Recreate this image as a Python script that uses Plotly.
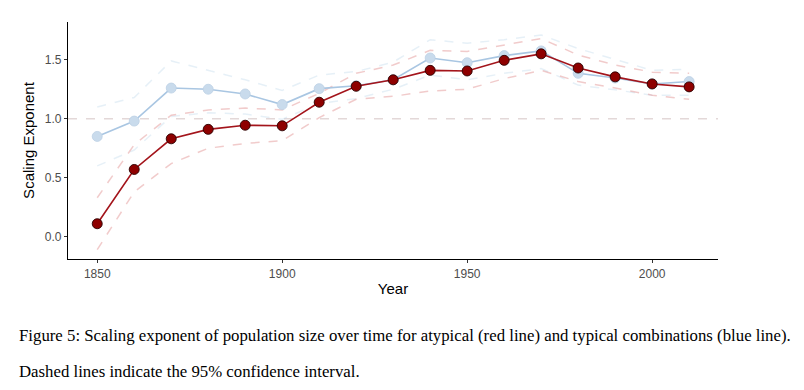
import plotly.graph_objects as go

years = [1850, 1860, 1870, 1880, 1890, 1900, 1910, 1920, 1930, 1940, 1950, 1960, 1970, 1980, 1990, 2000, 2010]
atypical = [0.11, 0.57, 0.83, 0.91, 0.945, 0.94, 1.14, 1.275, 1.33, 1.41, 1.405, 1.495, 1.55, 1.43, 1.355, 1.295, 1.27]
typical = [0.85, 0.98, 1.26, 1.25, 1.21, 1.12, 1.255, 1.28, 1.33, 1.515, 1.475, 1.535, 1.575, 1.385, 1.345, 1.295, 1.315]
atypical_upper = [0.33, 0.78, 1.03, 1.075, 1.09, 1.075, 1.215, 1.385, 1.455, 1.58, 1.57, 1.625, 1.68, 1.54, 1.455, 1.395, 1.385]
atypical_lower = [-0.11, 0.38, 0.62, 0.75, 0.79, 0.815, 1.01, 1.165, 1.19, 1.235, 1.25, 1.34, 1.41, 1.315, 1.26, 1.2, 1.165]
typical_upper = [1.1, 1.18, 1.49, 1.41, 1.33, 1.24, 1.37, 1.40, 1.48, 1.67, 1.64, 1.67, 1.71, 1.595, 1.5, 1.41, 1.42]
typical_lower = [0.6, 0.735, 1.02, 1.05, 1.04, 0.995, 1.13, 1.17, 1.25, 1.37, 1.33, 1.385, 1.425, 1.285, 1.245, 1.2, 1.2]

x_ticks = [1850, 1900, 1950, 2000]
y_ticks = [0.0, 0.5, 1.0, 1.5]
y_tick_labels = ["0.0", "0.5", "1.0", "1.5"]

caption1 = "Figure 5: Scaling exponent of population size over time for atypical (red line) and typical combinations (blue line)."
caption2 = "Dashed lines indicate the 95% confidence interval."

fig = go.Figure()

blue_ci = dict(color="rgba(190,215,235,0.38)", width=1.5, dash="dash")
red_ci = dict(color="rgba(225,140,140,0.45)", width=1.5, dash="dash")

fig.add_trace(go.Scatter(x=years, y=typical_upper, mode="lines", line=blue_ci, hoverinfo="skip"))
fig.add_trace(go.Scatter(x=years, y=typical_lower, mode="lines", line=blue_ci, hoverinfo="skip"))
fig.add_trace(go.Scatter(x=years, y=atypical_upper, mode="lines", line=red_ci, hoverinfo="skip"))
fig.add_trace(go.Scatter(x=years, y=atypical_lower, mode="lines", line=red_ci, hoverinfo="skip"))

fig.add_trace(go.Scatter(
    x=years, y=typical, mode="lines+markers",
    line=dict(color="#a9c6e2", width=1.6),
    marker=dict(size=10, color="#c9dbec", line=dict(color="#bcd0e4", width=0.8)),
))
fig.add_trace(go.Scatter(
    x=years, y=atypical, mode="lines+markers",
    line=dict(color="#a3141b", width=1.6),
    marker=dict(size=10, color="#8e0000", line=dict(color="#2a0000", width=0.9)),
))

fig.add_hline(y=1.0, line=dict(color="rgba(215,200,200,0.7)", width=1.3, dash="dash"), layer="below")

fig.update_layout(
    width=804, height=390,
    margin=dict(l=68, r=86, t=22, b=131),
    paper_bgcolor="white", plot_bgcolor="white",
    showlegend=False,
    font=dict(family="Liberation Sans, Arial, sans-serif", color="#000000"),
    xaxis=dict(
        range=[1842.1, 2017.8], tickvals=x_ticks, ticks="outside", ticklen=3,
        tickcolor="#333333", showline=True, linecolor="#000000", linewidth=1.2,
        showgrid=False, zeroline=False, tickfont=dict(size=12, color="#4d4d4d"),
        title=dict(text="Year", font=dict(size=15, color="#000000"), standoff=3),
        automargin=False,
    ),
    yaxis=dict(
        range=[-0.189, 1.82], tickvals=y_ticks, ticktext=y_tick_labels, ticks="outside", ticklen=3,
        tickcolor="#333333", showline=True, linecolor="#000000", linewidth=1.2,
        showgrid=False, zeroline=False, tickfont=dict(size=12, color="#4d4d4d"),
        title=dict(text="Scaling Exponent", font=dict(size=15, color="#000000"), standoff=6),
        automargin=False,
    ),
)

fig.add_annotation(text=caption1, xref="paper", yref="paper", x=(17 - 68) / 650, y=-(335 - 259) / 237,
                   xanchor="left", yanchor="middle", showarrow=False,
                   font=dict(family="Liberation Serif, Times New Roman, serif", size=16.8, color="#000000"))
fig.add_annotation(text=caption2, xref="paper", yref="paper", x=(17 - 68) / 650, y=-(371 - 259) / 237,
                   xanchor="left", yanchor="middle", showarrow=False,
                   font=dict(family="Liberation Serif, Times New Roman, serif", size=16.8, color="#000000"))

fig.write_html("out.html", config={"displayModeBar": False},
               post_script="document.body.style.margin='0';document.body.style.padding='0';")
